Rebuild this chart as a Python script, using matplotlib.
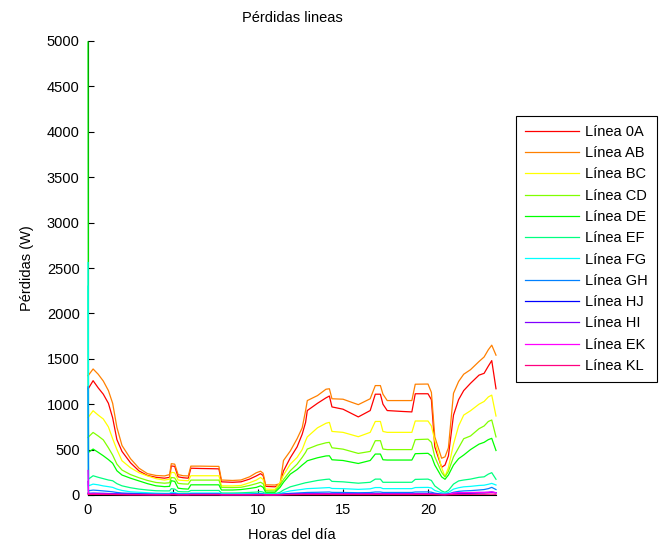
import matplotlib
matplotlib.use("Agg")
import matplotlib.pyplot as plt

plt.rcParams['font.family'] = ['Liberation Sans', 'DejaVu Sans']

# Hora del día de cada muestra
HORAS = [
    0.0, 0.03, 0.3, 0.6, 0.9, 1.2, 1.45, 1.7, 2.0, 2.5,
    3.0, 3.5, 4.0, 4.5, 4.8, 4.9, 5.1, 5.3, 5.6, 5.9,
    6.05, 6.6, 7.2, 7.7, 7.85, 8.5, 9.0, 9.5, 9.9, 10.15,
    10.3, 10.45, 11.0, 11.3, 11.5, 11.9, 12.3, 12.6, 12.8, 12.9,
    13.5, 14.0, 14.2, 14.35, 15.0, 15.9, 16.6, 16.9, 17.2, 17.35,
    17.6, 18.5, 19.05, 19.25, 20.0, 20.2, 20.4, 20.8, 21.0, 21.2,
    21.5, 21.8, 22.1, 22.5, 23.0, 23.3, 23.55, 23.75, 24.0,
]

# Pérdidas por tramo de línea (W)
P_0A = [
    1168, 1175, 1259, 1180, 1110, 1010, 850, 610, 480, 355,
    265, 215, 195, 185, 195, 320, 315, 200, 190, 185,
    295, 292, 290, 288, 145, 140, 145, 175, 210, 235,
    215, 95, 90, 120, 265, 410, 530, 670, 800, 930,
    1010, 1070, 1090, 970, 945, 860, 930, 1110, 1110, 1000,
    930, 920, 915, 1115, 1115, 1050, 530, 305, 330, 430,
    880, 1050, 1150, 1230, 1320, 1340, 1420, 1480, 1170,
]
P_AB = [
    1314, 1320, 1388, 1330, 1255, 1150, 1010, 745, 545, 400,
    295, 235, 215, 210, 225, 345, 340, 225, 212, 210,
    318, 318, 316, 315, 165, 160, 165, 200, 245, 262,
    240, 112, 110, 125, 380, 485, 620, 740, 930, 1040,
    1095, 1165, 1170, 1060, 1055, 995, 1060, 1205, 1205, 1110,
    1040, 1040, 1040, 1220, 1222, 1130, 640, 405, 420, 520,
    1120, 1250, 1330, 1380, 1470, 1520, 1600, 1650, 1540,
]
P_BC = [
    855, 860, 928, 880, 837, 750, 620, 500, 377, 300,
    245, 210, 180, 164, 175, 250, 245, 165, 160, 157,
    212, 212, 212, 212, 101, 100, 105, 135, 164, 193,
    170, 65, 62, 138, 220, 340, 414, 500, 598, 640,
    740, 790, 800, 700, 690, 642, 690, 810, 810, 700,
    690, 690, 690, 815, 815, 760, 600, 300, 205, 300,
    560, 760, 880, 928, 1000, 1030, 1080, 1100, 870,
]
P_CD = [
    634, 640, 689, 650, 607, 520, 440, 340, 275, 225,
    190, 160, 138, 130, 135, 193, 188, 128, 122, 120,
    164, 164, 164, 164, 84, 82, 85, 105, 125, 140,
    125, 47, 45, 110, 170, 267, 340, 414, 470, 506,
    550, 575, 580, 520, 505, 458, 480, 598, 598, 506,
    500, 500, 500, 610, 615, 580, 420, 250, 200, 260,
    420, 520, 620, 650, 730, 760, 810, 826, 640,
]
P_DE = [
    4990, 470, 506, 470, 432, 390, 350, 267, 220, 185,
    155, 125, 101, 92, 95, 157, 150, 75, 68, 65,
    112, 112, 112, 112, 55, 55, 60, 72, 84, 101,
    85, 30, 30, 85, 140, 230, 280, 330, 360, 377,
    410, 430, 432, 388, 380, 347, 380, 451, 451, 388,
    385, 385, 385, 455, 459, 430, 330, 200, 173, 220,
    330, 400, 440, 500, 560, 580, 610, 624, 490,
]
P_EF = [
    2300, 175, 212, 195, 180, 165, 157, 125, 101, 80,
    65, 55, 47, 45, 45, 70, 65, 38, 35, 35,
    50, 50, 50, 50, 22, 22, 24, 28, 32, 38,
    32, 15, 15, 30, 55, 90, 110, 125, 135, 138,
    160, 172, 175, 150, 145, 130, 140, 175, 175, 140,
    140, 140, 140, 172, 175, 160, 100, 45, 30, 50,
    120, 155, 165, 175, 195, 200, 230, 246, 173,
]
P_FG = [
    2560, 101, 120, 112, 100, 92, 84, 65, 50, 35,
    30, 25, 20, 18, 18, 30, 28, 16, 15, 15,
    22, 22, 22, 22, 12, 12, 12, 14, 16, 18,
    15, 8, 8, 15, 28, 45, 55, 62, 68, 70,
    75, 80, 82, 72, 70, 62, 68, 82, 82, 70,
    70, 70, 70, 82, 84, 78, 50, 25, 20, 28,
    65, 80, 90, 95, 105, 108, 118, 128, 110,
]
P_GH = [
    1190, 47, 54, 50, 45, 40, 35, 28, 22, 18,
    15, 12, 10, 10, 10, 15, 14, 9, 9, 9,
    12, 12, 12, 12, 7, 7, 7, 8, 9, 10,
    9, 5, 5, 8, 12, 18, 22, 25, 27, 28,
    30, 32, 33, 29, 28, 25, 27, 33, 33, 28,
    28, 28, 28, 33, 34, 31, 20, 10, 8, 12,
    30, 40, 45, 48, 55, 60, 70, 84, 60,
]
P_HJ = [
    20, 18, 20, 19, 18, 16, 14, 12, 10, 8,
    7, 6, 5, 5, 5, 7, 7, 5, 5, 5,
    6, 6, 6, 6, 4, 4, 4, 4, 5, 5,
    5, 3, 3, 4, 6, 8, 10, 11, 12, 12,
    13, 14, 14, 12, 12, 11, 12, 14, 14, 12,
    12, 12, 12, 14, 15, 14, 9, 5, 4, 6,
    12, 16, 18, 19, 22, 23, 26, 30, 24,
]
P_HI = [
    150, 14, 16, 15, 14, 13, 12, 10, 9, 8,
    7, 6, 6, 6, 6, 8, 8, 6, 6, 6,
    7, 7, 7, 7, 5, 5, 5, 5, 6, 6,
    6, 4, 4, 5, 7, 9, 10, 11, 12, 12,
    13, 13, 13, 12, 12, 11, 12, 13, 13, 12,
    12, 12, 12, 13, 13, 12, 9, 6, 6, 8,
    20, 24, 25, 26, 28, 28, 30, 32, 26,
]
P_EK = [
    270, 10, 12, 11, 10, 9, 8, 7, 6, 5,
    5, 4, 4, 4, 4, 6, 6, 4, 4, 4,
    5, 5, 5, 5, 3, 3, 3, 3, 4, 4,
    4, 2, 2, 3, 5, 6, 7, 8, 8, 9,
    9, 10, 10, 9, 9, 8, 9, 10, 10, 9,
    9, 9, 9, 10, 10, 9, 7, 5, 5, 7,
    22, 25, 26, 27, 28, 28, 30, 33, 25,
]
P_KL = [
    8, 6, 7, 7, 6, 6, 5, 4, 4, 3,
    3, 3, 2, 2, 2, 3, 3, 2, 2, 2,
    3, 3, 3, 3, 2, 2, 2, 2, 2, 2,
    2, 1, 1, 2, 3, 4, 4, 5, 5, 5,
    5, 6, 6, 5, 5, 5, 5, 6, 6, 5,
    5, 5, 5, 6, 6, 5, 4, 3, 2, 3,
    5, 6, 7, 7, 8, 8, 9, 10, 8,
]

ETIQUETAS = ['Línea 0A', 'Línea AB', 'Línea BC', 'Línea CD', 'Línea DE', 'Línea EF',
             'Línea FG', 'Línea GH', 'Línea HJ', 'Línea HI', 'Línea EK', 'Línea KL']
SERIES = [P_0A, P_AB, P_BC, P_CD, P_DE, P_EF, P_FG, P_GH, P_HJ, P_HI, P_EK, P_KL]
COLORES = ['#ff0000', '#ff8000', '#ffff00', '#80ff00', '#00ff00', '#00ff80',
           '#00ffff', '#0080ff', '#0000ff', '#8000ff', '#ff00ff', '#ff0080']

fig = plt.figure(figsize=(6.71, 5.46), dpi=100)
ax = fig.add_axes([88 / 671, 51 / 546, 408 / 671, 454 / 546])

for valores, etiqueta, color in zip(SERIES, ETIQUETAS, COLORES):
    ax.plot(HORAS, valores, color=color, lw=0.9, label=etiqueta,
            clip_on=False, zorder=3)

ax.set_xlim(0, 24)
ax.set_ylim(0, 5000)
ax.set_xticks([0, 5, 10, 15, 20])
ax.set_yticks(range(0, 5001, 500))
ax.spines['top'].set_visible(False)
ax.spines['right'].set_visible(False)
for s in ('left', 'bottom'):
    ax.spines[s].set_linewidth(0.8)
    ax.spines[s].set_zorder(1)
ax.tick_params(direction='in', length=4, width=0.8, labelsize=10.5, pad=6)

ax.set_title('Pérdidas lineas', fontsize=10.5, pad=14)
ax.set_xlabel('Horas del día', fontsize=10.5, labelpad=7.5)
ax.set_ylabel('Pérdidas (W)', fontsize=10.5, labelpad=9.5)

leg = ax.legend(loc='upper left', bbox_to_anchor=(516 / 671, 1 - 116 / 546),
                bbox_transform=fig.transFigure, borderaxespad=0,
                fontsize=10.5, handlelength=3.7, handletextpad=0.45,
                labelspacing=0.5, borderpad=0.6, fancybox=False,
                framealpha=1, edgecolor='black')
leg.get_frame().set_linewidth(0.8)

fig.savefig('out.png', dpi=100)
